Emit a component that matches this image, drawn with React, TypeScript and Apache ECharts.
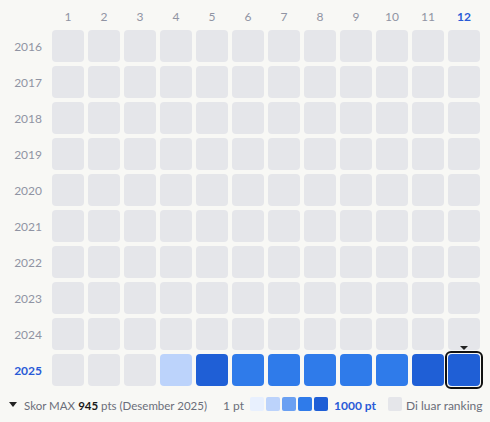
import React, { useEffect, useRef } from "react";
import * as echarts from "echarts";

const months = ["1", "2", "3", "4", "5", "6", "7", "8", "9", "10", "11", "12"];
const years = ["2016", "2017", "2018", "2019", "2020", "2021", "2022", "2023", "2024", "2025"];
// Scores per year (null = outside ranking)
const scores2025: (number | null)[] = [null, null, null, 310, 880, 720, 750, 740, 760, 730, 890, 945];
const emptyYear: (number | null)[] = [null, null, null, null, null, null, null, null, null, null, null, null];
const scoresByYear: (number | null)[][] = [
  emptyYear, emptyYear, emptyYear, emptyYear, emptyYear,
  emptyYear, emptyYear, emptyYear, emptyYear, scores2025,
];
const levelBreaks = [200, 400, 600, 800, 1000];
const levelColors = ["#e8f0fe", "#bcd3fb", "#6aa0f2", "#2f7bea", "#1f5fd6"];
const emptyColor = "#e5e6ea";
const highlightYear = "2025";
const highlightMonth = "12";
const maxScore = 945;
const maxLabel = "Desember 2025";

const FONT = "Lato";
const BG = "#f8f8f5";

function colorFor(v: number | null) {
  if (v == null) return emptyColor;
  for (let i = 0; i < levelBreaks.length; i++) if (v <= levelBreaks[i]) return levelColors[i];
  return levelColors[levelColors.length - 1];
}

type Cell = { m: number; y: number; v: number | null };
const cells: Cell[] = [];
years.forEach((_, yi) => months.forEach((_, mi) => cells.push({ m: mi, y: yi, v: scoresByYear[yi][mi] })));

export default function App() {
  const ref = useRef<HTMLDivElement>(null);
  useEffect(() => {
    document.body.style.margin = "0";
    document.body.style.background = BG;
    const chart = echarts.init(ref.current!, null, { renderer: "svg" });
    const hiM = months.indexOf(highlightMonth);
    const hiY = years.indexOf(highlightYear);
    const swX = [250, 266, 282, 298, 314];
    chart.setOption({
      animation: false,
      backgroundColor: BG,
      textStyle: { fontFamily: FONT },
      grid: { left: 50, top: 28, width: 432, height: 360 },
      xAxis: {
        type: "category",
        data: months,
        position: "top",
        axisLine: { show: false },
        axisTick: { show: false },
        splitLine: { show: false },
        axisLabel: {
          interval: 0,
          margin: 6,
          fontFamily: FONT,
          fontSize: 12,
          color: "#9094a3",
          formatter: (v: string) => (v === highlightMonth ? `{hi|${v}}` : v),
          rich: { hi: { color: "#2a5bd7", fontWeight: "bold", fontSize: 12, fontFamily: FONT } },
        },
      },
      yAxis: {
        type: "category",
        data: years,
        inverse: true,
        axisLine: { show: false },
        axisTick: { show: false },
        splitLine: { show: false },
        axisLabel: {
          interval: 0,
          margin: 8,
          fontFamily: FONT,
          fontSize: 12,
          color: "#9094a3",
          formatter: (v: string) => (v === highlightYear ? `{hi|${v}}` : v),
          rich: { hi: { color: "#2a5bd7", fontWeight: "bold", fontSize: 12, fontFamily: FONT } },
        },
      },
      series: [
        {
          type: "custom",
          data: cells.map((c) => [c.m, c.y]),
          renderItem: (params: any, api: any) => {
            const c = cells[params.dataIndex];
            const p = api.coord([api.value(0), api.value(1)]);
            const s = api.size([1, 1]);
            const w = s[0] - 4;
            const h = s[1] - 4;
            const x = p[0] - w / 2;
            const y = p[1] - h / 2;
            const children: any[] = [
              { type: "rect", shape: { x, y, width: w, height: h, r: 4 }, style: { fill: colorFor(c.v) } },
            ];
            if (c.m === hiM && c.y === hiY) {
              children.push({
                type: "rect",
                shape: { x: x - 2, y: y - 2, width: w + 4, height: h + 4, r: 5 },
                style: { fill: "none", stroke: "#111", lineWidth: 2 },
              });
              children.push({
                type: "polygon",
                shape: { points: [[p[0] - 4, y - 8], [p[0] + 4, y - 8], [p[0], y - 4]] },
                style: { fill: "#222" },
              });
            }
            return { type: "group", children };
          },
        },
      ],
      graphic: [
        { type: "polygon", shape: { points: [[9, 402], [17, 402], [13, 407]] }, style: { fill: "#222" } },
        {
          type: "text",
          x: 24,
          y: 405,
          style: {
            text: `{a|Skor MAX }{b|${maxScore}}{a| pts (${maxLabel})}`,
            verticalAlign: "middle",
            rich: {
              a: { fill: "#6b6e7a", fontSize: 11.5, fontFamily: FONT },
              b: { fill: "#1a1a1a", fontSize: 11.5, fontWeight: "bold", fontFamily: FONT },
            },
          },
        },
        {
          type: "text",
          x: 244,
          y: 405,
          style: { text: "1 pt", align: "right", verticalAlign: "middle", fill: "#6b6e7a", fontSize: 12, fontFamily: FONT },
        },
        ...levelColors.map((col, i) => ({
          type: "rect",
          shape: { x: swX[i], y: 397, width: 14, height: 14, r: 2 },
          style: { fill: col },
        })),
        {
          type: "text",
          x: 334,
          y: 405,
          style: { text: "1000 pt", verticalAlign: "middle", fill: "#2a5bd7", fontSize: 12, fontWeight: "bold", fontFamily: FONT },
        },
        { type: "rect", shape: { x: 388, y: 397, width: 14, height: 14, r: 2 }, style: { fill: emptyColor } },
        {
          type: "text",
          x: 406,
          y: 405,
          style: { text: "Di luar ranking", verticalAlign: "middle", fill: "#6b6e7a", fontSize: 12, fontFamily: FONT },
        },
      ],
    });
    return () => chart.dispose();
  }, []);
  return <div ref={ref} style={{ position: "fixed", left: 0, top: 0, width: 490, height: 422 }} />;
}
